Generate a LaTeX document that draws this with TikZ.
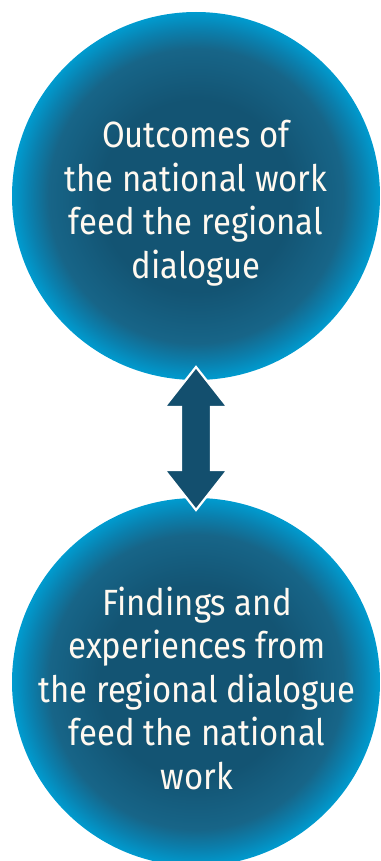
\documentclass[tikz,border=0pt]{standalone}
\usepackage{fontspec}
\setmainfont{Fira Sans}[FakeStretch=0.9]
\usetikzlibrary{calc}
\definecolor{ringdark}{HTML}{135473}
\definecolor{ringmid}{HTML}{176588}
\definecolor{ringmid2}{HTML}{0A80AE}
\definecolor{ringlight}{HTML}{009BCF}
\definecolor{arrowblue}{HTML}{134F6E}
\definecolor{textcream}{HTML}{FFF9F0}
\pgfdeclareradialshading{ball}{\pgfpoint{0bp}{0bp}}{%
  color(0bp)=(ringdark); color(13bp)=(ringdark); color(20bp)=(ringmid);
  color(22.7bp)=(ringmid2); color(25bp)=(ringlight); color(50bp)=(ringlight)}
\begin{document}
\begin{tikzpicture}[x=1pt,y=-1pt,
  bubble/.style={circle, minimum size=368pt, inner sep=0pt, shading=ball},
  bubbletext/.style={text=textcream, align=center, font=\fontsize{36.5}{43.5}\selectfont},
  arrowshape/.style={fill=arrowblue, draw=white, line width=2.2pt, line join=miter}]
\useasboundingbox (0,0) rectangle (380,861);
\clip (0,0) rectangle (380,861);
\node[bubble] (top) at (196,196) {};
\node[bubble] (bottom) at (196,682) {};
\node[bubbletext] (toptext) at (196,203) {Outcomes of\\the national work\\feed the regional\\dialogue};
\node[bubbletext] (bottomtext) at (197,688) {Findings and\\experiences from\\the regional dialogue\\feed the national\\work};
\coordinate (ac) at (196,439);
\draw[arrowshape] ($(ac)+(0,-72)$) -- ($(ac)+(31.5,-32)$) -- ($(ac)+(15,-32)$)
  -- ($(ac)+(15,31)$) -- ($(ac)+(31.5,31)$) -- ($(ac)+(0,71)$)
  -- ($(ac)+(-31.5,31)$) -- ($(ac)+(-15,31)$) -- ($(ac)+(-15,-32)$)
  -- ($(ac)+(-31.5,-32)$) -- cycle;
\end{tikzpicture}
\end{document}
